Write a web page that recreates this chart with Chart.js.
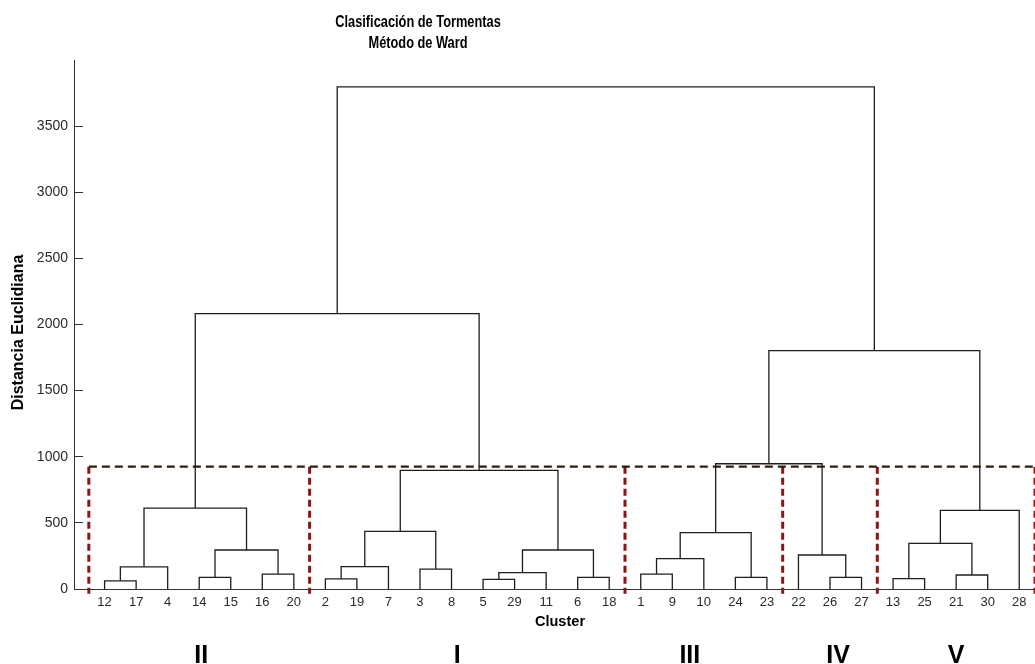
<!DOCTYPE html>
<html><head><meta charset="utf-8">
<script src="https://cdn.jsdelivr.net/npm/chart.js@4"></script>
<style>html,body{margin:0;padding:0;background:#fff;overflow:hidden}canvas{display:block}</style>
</head><body>
<canvas id="c" width="1035" height="664"></canvas>
<script>
// ---------------- data ----------------
const chartTitle = ['Clasificación de Tormentas', 'Método de Ward'];
const yAxisTitle = 'Distancia Euclidiana';
const xAxisTitle = 'Cluster';
// storm ids in dendrogram leaf order
const leafLabels = [12,17,4,14,15,16,20,2,19,7,3,8,5,29,11,6,18,1,9,10,24,23,22,26,27,13,25,21,30,28];
// linkage (ids 1..30 = storms, 31.. = merges in the order listed)
const mergeLeft   = [12,31,14,16,33,32, 2,37, 3,38, 5,41, 6,42,40,36, 1,47,24,48,26,22,50,13,21,54,56,53,46];
const mergeRight  = [17, 4,15,20,34,35,19, 7, 8,39,29,11,18,43,44,45, 9,10,23,49,27,51,52,25,30,55,28,57,58];
const mergeHeight = [62,167,88,113,295,612,76,169,151,436,73,124,88,295,897,2082,113,229,88,426,88,257,947,78,106,345,594,1803,3797];
const yTicks = [0,500,1000,1500,2000,2500,3000,3500];
const clusterNames = ['II','I','III','IV','V'];
const clusterSizes = [7,10,5,3,5];
const cutHeight = 925;

// ---------------- build ----------------
const nLeaf = leafLabels.length;
const nodeX = {}, nodeH = {};
leafLabels.forEach((id, i) => { nodeX[id] = i + 1; nodeH[id] = 0; });
const linkData = mergeHeight.map((h, k) => {
  const a = mergeLeft[k], b = mergeRight[k], id = nLeaf + 1 + k;
  nodeX[id] = (nodeX[a] + nodeX[b]) / 2; nodeH[id] = h;
  return [{x:nodeX[a], y:nodeH[a]}, {x:nodeX[a], y:h}, {x:nodeX[b], y:h}, {x:nodeX[b], y:nodeH[b]}];
});
const bounds = [0.5]; let acc = 0;
clusterSizes.forEach(s => { acc += s; bounds.push(acc + 0.5); });
const groupCenters = []; acc = 0;
clusterSizes.forEach(s => { groupCenters.push(acc + (1 + s) / 2); acc += s; });

const dashBottom = -35;
const datasets = [];
datasets.push({data:[{x:bounds[0], y:cutHeight}, {x:bounds[bounds.length-1], y:cutHeight}],
  showLine:true, borderColor:'#2e1c12', borderWidth:2.2, borderDash:[8,5], pointRadius:0, clip:false});
bounds.forEach(b => datasets.push({data:[{x:b, y:cutHeight}, {x:b, y:dashBottom}],
  showLine:true, borderColor:'#8c1616', borderWidth:3, borderDash:[7,4], pointRadius:0, clip:false}));
linkData.forEach(d => datasets.push({data:d, showLine:true, borderColor:'#1e1e1e', borderWidth:1.3,
  pointRadius:0, tension:0, clip:false}));

// font choice for ticks
function hasFont(name){
  const c = document.createElement('canvas').getContext('2d');
  const s = '0123456789 abcdefghijklmnop';
  c.font = '40px monospace'; const a = c.measureText(s).width;
  c.font = '40px "' + name + '", monospace'; return c.measureText(s).width !== a;
}
const narrow = hasFont('Liberation Sans Narrow');
const xTickFont = narrow ? {family:'"Liberation Sans Narrow"', size:15} : {family:'"Liberation Sans", Arial, sans-serif', size:13};
const yTickFont = narrow ? {family:'"Liberation Sans Narrow"', size:15} : {family:'"Liberation Sans", Arial, sans-serif', size:14};

function sText(ctx, txt, x, y, font, sx, rot, align, base){
  ctx.save(); ctx.translate(x, y); ctx.scale(sx, 1); if (rot) ctx.rotate(rot);
  ctx.font = font; ctx.textAlign = align || 'center'; ctx.textBaseline = base || 'middle';
  ctx.fillText(txt, 0, 0); ctx.restore();
}
const numeralOffsets = [2,-10,-14,8,0];
const textPlugin = {
  id:'texts',
  afterDraw(chart){
    const c = chart.ctx; c.save(); c.fillStyle = '#000';
    const bf = (s) => 'bold ' + s + 'px "Liberation Sans", Arial, sans-serif';
    sText(c, chartTitle[0], 418, 22.5, bf(16), 0.8);
    sText(c, chartTitle[1], 418, 43.3, bf(16), 0.8);
    sText(c, yAxisTitle, 19, 332.5, bf(16), 1, -Math.PI/2);
    sText(c, xAxisTitle, 560, 622, bf(15), 0.97);
    const xs = chart.scales.x;
    clusterNames.forEach((n, i) => sText(c, n, xs.getPixelForValue(groupCenters[i]) + numeralOffsets[i], 663, bf(25), 1, 0, 'center', 'alphabetic'));
    c.restore();
  }
};

new Chart(document.getElementById('c'), {
  type:'scatter',
  data:{datasets},
  options:{
    responsive:false, animation:false, events:[],
    layout:{padding:{top:60, left:0, right:0, bottom:0}},
    plugins:{legend:{display:false}, tooltip:{enabled:false}, title:{display:false}},
    scales:{
      x:{type:'linear', min:0.03, max:30.5,
        afterBuildTicks:s => { s.ticks = leafLabels.map((_, i) => ({value:i + 1})); },
        afterFit:s => { s.height = 75; s.paddingLeft = 0; s.paddingRight = 0; },
        ticks:{autoSkip:false, maxRotation:0, minRotation:0, padding:6, color:'#2a2a2a', font:xTickFont,
          callback:(v, i) => String(leafLabels[i])},
        grid:{display:true, drawOnChartArea:false, drawTicks:false, color:'#333'},
        border:{display:true, color:'#333', width:1}
      },
      y:{type:'linear', min:0, max:4000,
        afterBuildTicks:s => { s.ticks = yTicks.map(v => ({value:v})); },
        afterFit:s => { s.width = 74; s.paddingTop = 0; s.paddingBottom = 0; },
        ticks:{padding:15, color:'#2a2a2a', font:yTickFont, callback:v => String(v)},
        grid:{display:true, drawOnChartArea:false, drawTicks:true, tickLength:-9, color:'#333'},
        border:{display:true, color:'#333', width:1}
      }
    }
  },
  plugins:[textPlugin]
});
</script>
</body></html>
